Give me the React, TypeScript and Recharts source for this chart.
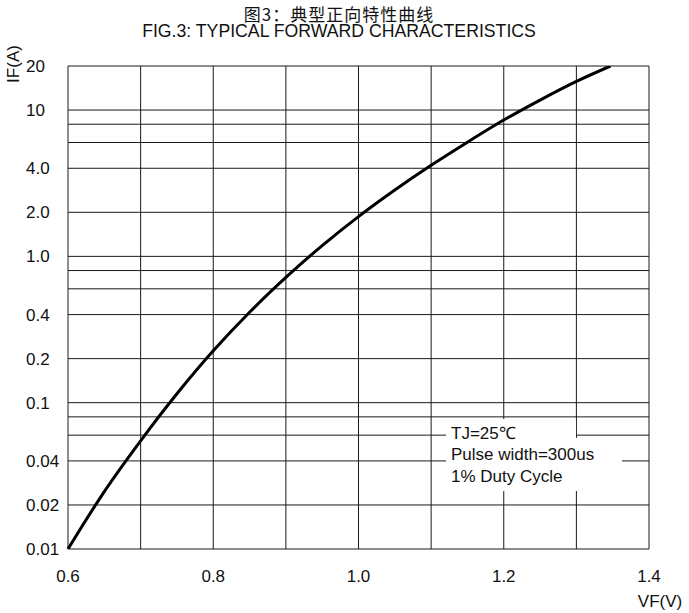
import { LineChart, Line, XAxis, YAxis, CartesianGrid } from "recharts";

// forward voltage (V) and forward current (A)
const vf = [0.6, 0.65, 0.7, 0.75, 0.8, 0.85, 0.9, 0.95, 1.0, 1.05, 1.1, 1.15, 1.2, 1.25, 1.3, 1.347];
const ifA = [0.01, 0.0247, 0.0549, 0.115, 0.226, 0.415, 0.718, 1.185, 1.87, 2.84, 4.19, 6.03, 8.54, 11.7, 15.7, 20];

const xTicks = [0.6, 0.7, 0.8, 0.9, 1.0, 1.1, 1.2, 1.3, 1.4];
const xLabels = ["0.6", "", "0.8", "", "1.0", "", "1.2", "", "1.4"];

const yTicks = [0.01, 0.02, 0.04, 0.06, 0.08, 0.1, 0.2, 0.4, 0.6, 0.8, 1, 2, 4, 6, 8, 10, 20];
const yLabels = ["0.01", "0.02", "0.04", "", "", "0.1", "0.2", "0.4", "", "", "1.0", "2.0", "4.0", "", "", "10", "20"];

const notes = ["TJ=25℃", "Pulse width=300us", "1% Duty Cycle"];

const data = vf.map((v, i) => ({ v, i: ifA[i] }));

const FONT = "'Liberation Sans', Arial, sans-serif";

const XTick = (props: any) => {
  const idx = xTicks.findIndex((t) => Math.abs(t - props.payload.value) < 1e-6);
  const label = idx >= 0 ? xLabels[idx] : "";
  return (
    <text x={props.x} y={576} dy="0.35em" textAnchor="middle" fontSize={17} fill="#111" fontFamily={FONT}>
      {label}
    </text>
  );
};

const YTick = (props: any) => {
  const idx = yTicks.findIndex((t) => Math.abs(t - props.payload.value) < 1e-9);
  const label = idx >= 0 ? yLabels[idx] : "";
  return (
    <text x={26} y={props.y} dy="0.35em" textAnchor="start" fontSize={17} fill="#111" fontFamily={FONT}>
      {label}
    </text>
  );
};

export default function App() {
  return (
    <div style={{ position: "absolute", left: 0, top: 0, width: 689, height: 613, background: "#fff", fontFamily: FONT, color: "#111" }}>
      <div style={{ position: "absolute", left: 0, top: 4, width: 678, textAlign: "center", fontSize: 17, lineHeight: "20px", fontFamily: "'Noto Sans CJK SC', sans-serif", letterSpacing: 1 }}>
        图3：典型正向特性曲线
      </div>
      <div style={{ position: "absolute", left: 0, top: 21, width: 678, textAlign: "center", fontSize: 19, lineHeight: "20px", transform: "scaleX(0.93)", transformOrigin: "339px 0" }}>
        FIG.3: TYPICAL FORWARD CHARACTERISTICS
      </div>

      <LineChart width={689} height={613} data={data} margin={{ top: 66, right: 40, bottom: 24, left: 8 }}>
        <CartesianGrid stroke="#1a1a1a" strokeWidth={1} />
        <XAxis
          dataKey="v"
          type="number"
          domain={[0.6, 1.4]}
          ticks={xTicks}
          interval={0}
          height={40}
          axisLine={false}
          tickLine={false}
          tick={<XTick />}
        />
        <YAxis
          type="number"
          scale="log"
          domain={[0.01, 20]}
          allowDataOverflow
          ticks={yTicks}
          interval={0}
          width={60}
          axisLine={false}
          tickLine={false}
          tick={<YTick />}
        />
        <Line type="monotone" dataKey="i" stroke="#000" strokeWidth={3} dot={false} isAnimationActive={false} />
      </LineChart>

      <div style={{ position: "absolute", left: 14, top: 64, transform: "translate(-50%,-50%) rotate(-90deg)", fontSize: 17, whiteSpace: "nowrap" }}>
        IF(A)
      </div>
      <div style={{ position: "absolute", left: 660, top: 602, transform: "translate(-50%,-50%)", fontSize: 17, whiteSpace: "nowrap" }}>
        VF(V)
      </div>

      <div style={{ position: "absolute", left: 446, top: 419, width: 130, height: 19, background: "#fff" }} />
      <div style={{ position: "absolute", left: 446, top: 438, width: 176, height: 53, background: "#fff" }} />
      <div style={{ position: "absolute", left: 451, top: 422.5, fontSize: 17, lineHeight: "21.7px", whiteSpace: "nowrap" }}>
        {notes.map((n) => (
          <div key={n}>{n}</div>
        ))}
      </div>
    </div>
  );
}
